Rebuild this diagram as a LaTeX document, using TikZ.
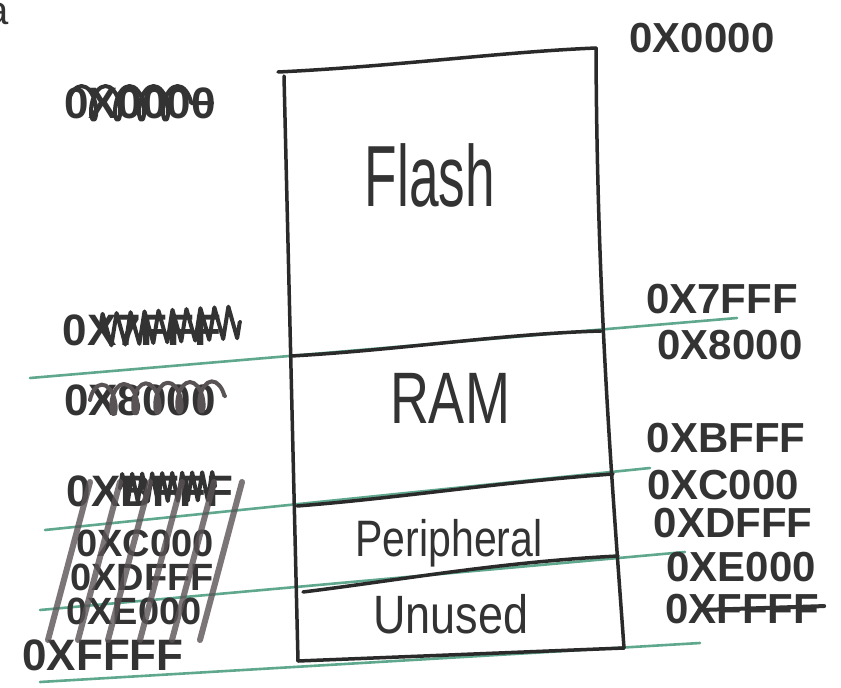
\documentclass[tikz,border=0pt]{standalone}
\usepackage{fontspec}
\setmainfont{Liberation Sans}
\usetikzlibrary{decorations.pathmorphing}
\definecolor{ink}{HTML}{2A2A2A}
\definecolor{txt}{HTML}{333333}
\definecolor{rule}{HTML}{5FA88E}
\definecolor{hatch}{HTML}{5A5356}
\tikzset{
  boxline/.style={draw=ink,line width=3.5pt,line cap=round},
  greenline/.style={draw=rule,line width=2.6pt,line cap=round},
  addr/.style={text=txt,font=\fontsize{42}{42}\selectfont\bfseries,inner sep=0pt},
  oldaddr/.style={text=txt,font=\fontsize{44}{44}\selectfont\bfseries,inner sep=0pt},
  oldsmall/.style={text=txt,font=\fontsize{38}{38}\selectfont\bfseries,inner sep=0pt},
  region/.style={text=txt,inner sep=0pt},
  scribble/.style={draw=txt,line width=4pt,line cap=round,line join=round},
  hatchline/.style={draw=hatch,line width=6pt,opacity=0.8,line cap=round}
}
\begin{document}
\begin{tikzpicture}[x=1pt,y=1pt]
\useasboundingbox (0,0) rectangle (841,-688);
\fill[white] (0,0) rectangle (841,-688);

% ruled green lines
\coordinate (g1a) at (30,-378);  \coordinate (g1b) at (737,-318);
\coordinate (g2a) at (45,-530);  \coordinate (g2b) at (650,-468);
\coordinate (g3a) at (40,-610);  \coordinate (g3b) at (685,-552);
\coordinate (g4a) at (40,-682);  \coordinate (g4b) at (700,-643);
\draw[greenline] (g1a) -- (g1b);
\draw[greenline] (g2a) -- (g2b);
\draw[greenline] (g3a) -- (g3b);
\draw[greenline] (g4a) -- (g4b);

% memory box
\coordinate (tl) at (278,-72);
\coordinate (tr) at (596,-48);
\coordinate (ltop) at (284,-76);
\coordinate (bl) at (298,-661);
\coordinate (br) at (624,-648);
\coordinate (d1l) at (291,-356); \coordinate (d1r) at (601,-331);
\coordinate (d2l) at (297,-506); \coordinate (d2r) at (613,-474);
\coordinate (d3l) at (303,-592); \coordinate (d3r) at (618,-556);
\draw[boxline] (tl) .. controls (400,-66) and (500,-52) .. (tr);
\draw[boxline] (ltop) -- (bl);
\draw[boxline] (tr) .. controls (597,-300) and (612,-480) .. (br);
\draw[boxline] (bl) -- (br);
\draw[boxline] (d1l) .. controls (400,-350) and (500,-334) .. (d1r);
\draw[boxline] (d2l) .. controls (400,-498) and (500,-482) .. (d2r);
\draw[boxline] (d3l) .. controls (400,-580) and (500,-562) .. (d3r);

% region names
\node[region] (flash) at (430,-175) {\fontsize{56}{56}\selectfont\scalebox{0.95}[1.55]{Flash}};
\node[region] (ram) at (450,-398) {\fontsize{54}{54}\selectfont\scalebox{1}[1.35]{RAM}};
\node[region] (periph) at (449,-543) {\fontsize{41}{41}\selectfont\scalebox{1}[1.25]{Peripheral}};
\node[region] (unused) at (451,-614) {\fontsize{45}{45}\selectfont\scalebox{1}[1.2]{Unused}};

% right-hand addresses
\node[addr] (r0) at (702,-38) {0X0000};
\node[addr] (r1) at (722,-299) {0X7FFF};
\node[addr] (r2) at (730,-345) {0X8000};
\node[addr] (r3) at (726,-438) {0XBFFF};
\node[addr] (r4) at (723,-485) {0XC000};
\node[addr] (r5) at (733,-523) {0XDFFF};
\node[addr] (r6) at (741,-567) {0XE000};
\node[addr] (r7) at (742,-609) {0XFFFF};
\draw[scribble] (r7.south east) ++(-120,14) coordinate (sc1) -- ++(125,4) coordinate (sc2);

% cut-off letter at top left corner
\node[text=txt,font=\fontsize{40}{40}\selectfont,inner sep=0pt,anchor=east] (corner) at (9,-14) {a};

% crossed-out left-hand addresses
\node[oldaddr] (l0) at (140,-103) {0X0000};
\draw[scribble,decorate,decoration={coil,aspect=0.45,segment length=24pt,amplitude=17pt}] ([xshift=4pt]l0.west) -- ([xshift=-4pt]l0.east);
\node[oldaddr] (l1) at (142,-330) {0X7FFF};
\draw[scribble,decorate,decoration={zigzag,segment length=14pt,amplitude=16pt}] (100,-330) -- (240,-322);
\node[oldaddr] (l2) at (140,-400) {0X8000};
\draw[scribble,draw=hatch,decorate,decoration={coil,aspect=0.45,segment length=22pt,amplitude=15pt}] (90,-400) -- (225,-396);
\node[oldaddr] (l3) at (150,-491) {0XBFFF};
\draw[scribble,decorate,decoration={zigzag,segment length=10pt,amplitude=14pt}] (120,-488) -- (215,-486);
\node[oldsmall] (l4) at (145,-543) {0XC000};
\node[oldsmall] (l5) at (142,-577) {0XDFFF};
\node[oldsmall] (l6) at (134,-611) {0XE000};
\node[oldaddr] (l7) at (103,-655) {0XFFFF};
\foreach \x in {48,78,108,140,172,200}{
  \draw[hatchline] (\x,-640) -- (\x+42,-482);
}
\end{tikzpicture}
\end{document}
